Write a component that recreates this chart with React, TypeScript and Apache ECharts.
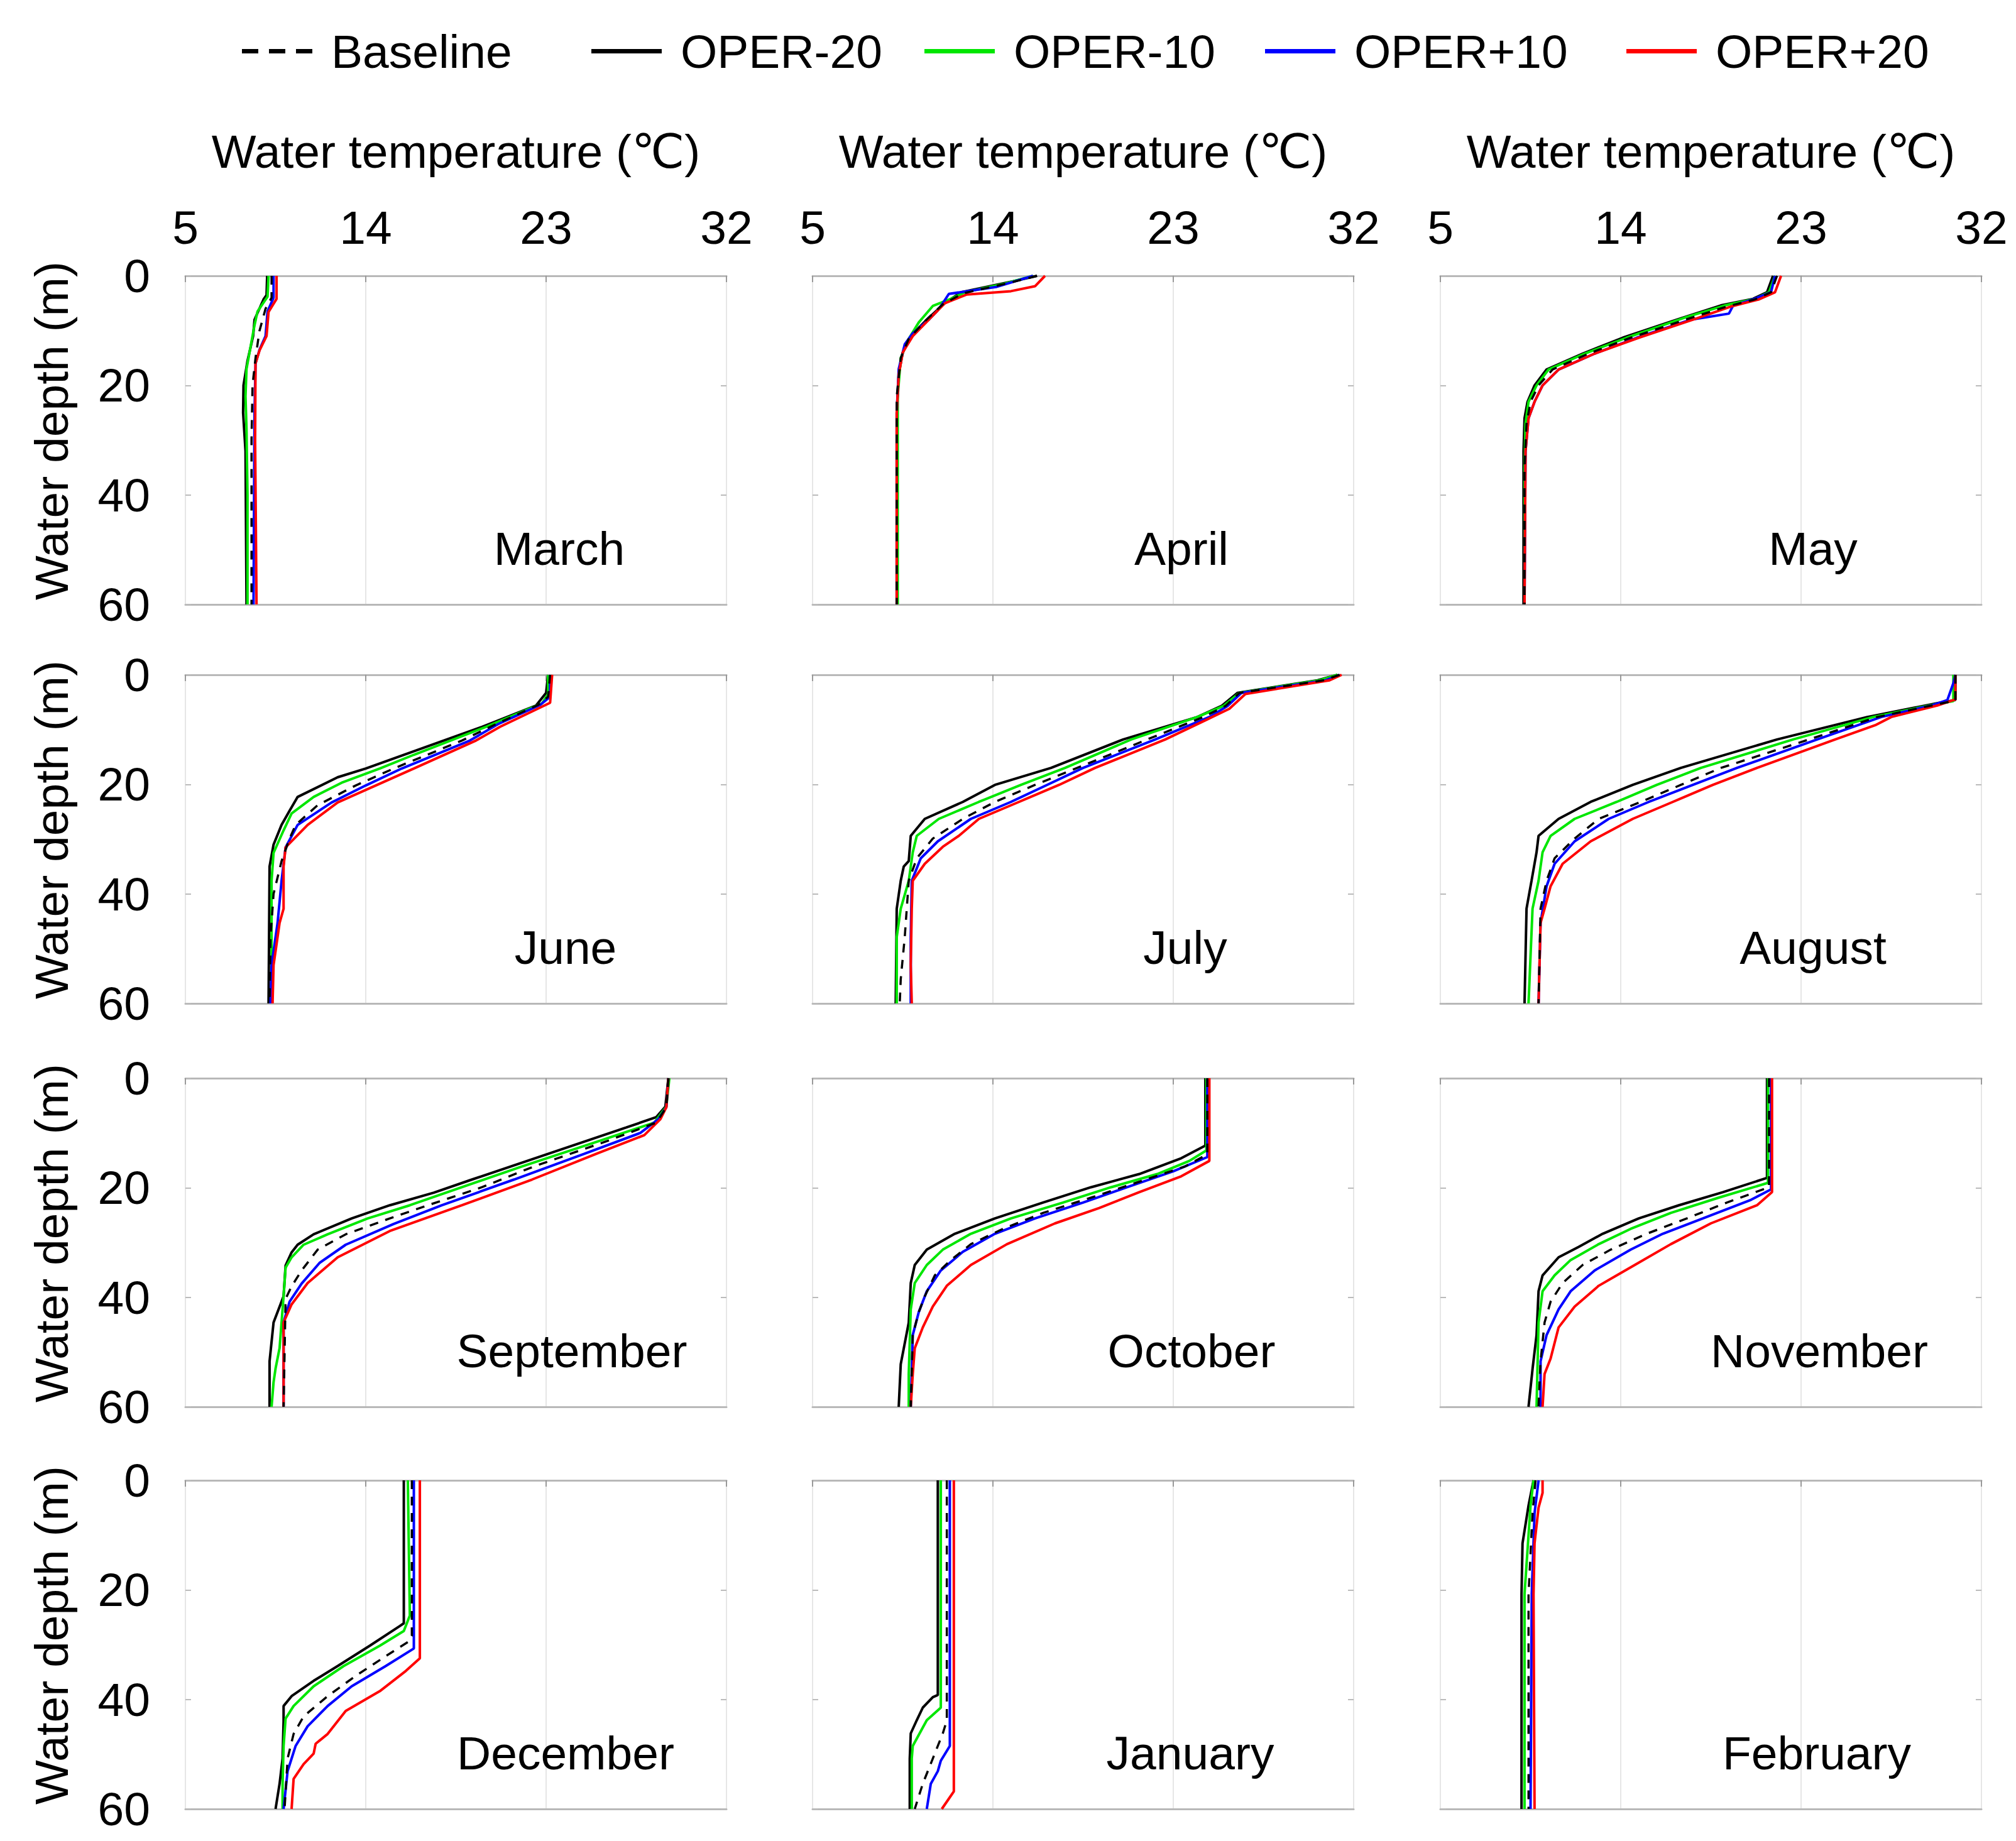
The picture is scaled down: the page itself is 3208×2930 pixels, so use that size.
import React, { useEffect, useRef } from "react";
import * as echarts from "echarts";

// ---------- data ----------
const SERIES_KEYS = ["m20", "m10", "p10", "p20", "base"];
const SERIES_NAMES = ["OPER-20", "OPER-10", "OPER+10", "OPER+20", "Baseline"];
const SERIES_COLORS = ["#000000", "#00e600", "#0000ff", "#ff0000", "#000000"];
const LEGEND_ORDER = ["Baseline", "OPER-20", "OPER-10", "OPER+10", "OPER+20"];
const MONTHS = ["March", "April", "May", "June", "July", "August", "September", "October", "November", "December", "January", "February"];
const TEMP_MIN = 5;
const TEMP_MAX = 32;
const TEMP_STEP = 9;
const DEPTH_MIN = 0;
const DEPTH_MAX = 60;
const DEPTH_STEP = 20;
const X_TITLE = "Water temperature (\u2103)";
const Y_TITLE = "Water depth (m)";

// each profile: [temperature (°C), depth (m)]
const march = {
  m20: [[9.08, 0], [9.05, 3.5], [8.9, 4.3], [8.45, 8], [8.38, 11], [8.1, 15.5], [7.9, 20], [7.88, 25], [8.0, 32], [8.05, 60]],
  m10: [[9.15, 0], [9.1, 3.8], [8.6, 6.5], [8.45, 9], [8.25, 13], [8.05, 17], [8.0, 22], [8.05, 28], [8.1, 40], [8.1, 60]],
  p10: [[9.4, 0], [9.4, 4], [9.1, 6.5], [9.0, 11], [8.7, 13.5], [8.5, 16], [8.45, 25], [8.4, 60]],
  p20: [[9.55, 0], [9.55, 4.2], [9.15, 6.6], [9.05, 11], [8.7, 13.6], [8.5, 16], [8.48, 30], [8.55, 60]],
  base: [[9.3, 0], [9.3, 4], [9.0, 6], [8.7, 10], [8.5, 15], [8.35, 20], [8.3, 30], [8.3, 60]],
};
const april = {
  m20: [[16.2, 0], [15.0, 1], [12.4, 3], [11.6, 5], [10.7, 8], [9.9, 11], [9.5, 14], [9.3, 18], [9.2, 25], [9.2, 60]],
  m10: [[16.0, 0], [14.5, 1.5], [12.6, 3], [11.9, 4.2], [11.0, 5.5], [10.3, 8.5], [9.8, 11.5], [9.4, 15], [9.25, 22], [9.25, 60]],
  p10: [[16.0, 0], [14.2, 2], [11.8, 3.3], [11.5, 5], [11.2, 6.5], [10.8, 8], [10.0, 10.5], [9.6, 12.5], [9.3, 17], [9.2, 25], [9.2, 60]],
  p20: [[16.6, 0], [16.1, 1.9], [14.9, 2.8], [12.7, 3.4], [11.6, 5], [10.8, 8], [10.0, 11], [9.5, 14], [9.3, 18], [9.2, 25], [9.2, 60]],
  base: [[16.2, 0], [14.8, 1.3], [12.5, 3.2], [11.5, 5.2], [10.6, 8.3], [9.8, 11.5], [9.4, 15], [9.2, 22], [9.2, 60]],
};
const may = {
  m20: [[21.6, 0], [21.3, 3], [20.6, 4.2], [19.0, 5.4], [17.0, 7.75], [14.1, 11.3], [12.1, 14.2], [10.3, 17.1], [9.7, 20], [9.35, 23], [9.2, 26], [9.15, 32], [9.15, 60]],
  m10: [[21.7, 0], [21.4, 3], [20.7, 4.2], [19.2, 5.4], [17.3, 7.5], [14.3, 11.3], [12.2, 14.2], [10.4, 17.1], [9.8, 20], [9.4, 23], [9.25, 27], [9.2, 35], [9.2, 60]],
  p10: [[21.7, 0], [21.5, 3], [20.6, 4.3], [19.6, 5.5], [19.4, 6.9], [18.2, 7.6], [17.5, 8], [14.8, 11.3], [12.7, 14.2], [10.9, 17.1], [10.1, 20], [9.7, 23], [9.4, 26], [9.25, 32], [9.2, 60]],
  p20: [[22.0, 0], [21.7, 3], [20.9, 4.3], [19.5, 5.6], [17.8, 7.75], [14.9, 11.3], [12.7, 14.2], [10.9, 17.1], [10.1, 20], [9.7, 23], [9.4, 26], [9.25, 32], [9.2, 60]],
  base: [[21.8, 0], [21.5, 3], [20.7, 4.3], [19.3, 5.6], [17.4, 7.8], [14.5, 11.3], [12.4, 14.2], [10.6, 17.1], [9.9, 20], [9.5, 23], [9.3, 27], [9.2, 35], [9.2, 60]],
};
const june = {
  m20: [[23.1, 0], [23.0, 3.3], [22.5, 5.6], [19.8, 9.5], [15.9, 14.6], [14.0, 17.1], [12.6, 18.7], [10.6, 22.3], [10.2, 24.8], [9.8, 27.4], [9.4, 31], [9.2, 35], [9.15, 60]],
  m10: [[23.1, 0], [23.1, 3.5], [22.8, 5.2], [20.0, 9.5], [16.4, 14.6], [14.7, 17.1], [12.8, 19.7], [11.4, 22.3], [10.3, 25.3], [9.9, 28.4], [9.4, 32.5], [9.3, 37.6], [9.3, 60]],
  p10: [[23.2, 0], [23.2, 4], [22.7, 5.5], [20.6, 9], [19.2, 12], [15.8, 17.1], [14.0, 20.2], [12.3, 23.3], [10.6, 27.4], [10.0, 31.5], [9.8, 37.6], [9.6, 45.3], [9.3, 53], [9.25, 60]],
  p20: [[23.3, 0], [23.2, 5.1], [20.7, 9.5], [19.5, 12], [16.4, 17.1], [14.5, 20.2], [12.6, 23.3], [11.1, 27.4], [10.0, 31.5], [9.9, 35], [9.9, 42.7], [9.7, 45.3], [9.4, 53], [9.35, 60]],
  base: [[23.2, 0], [23.1, 4], [22.6, 5.5], [20.5, 9], [18.8, 12], [15.4, 17.1], [13.5, 20.2], [11.6, 23.8], [10.5, 27.4], [10.2, 29.9], [9.8, 34], [9.4, 40], [9.25, 47.8], [9.2, 60]],
};
const july = {
  m20: [[31.2, 0], [30.2, 1], [26.2, 3.3], [25.4, 5.7], [24.2, 7.7], [20.5, 11.8], [16.9, 17], [14.1, 20.1], [12.5, 23.2], [10.6, 26.3], [9.9, 29.4], [9.8, 34], [9.55, 35], [9.4, 37.6], [9.2, 42.7], [9.15, 60]],
  m10: [[31.2, 0], [30.3, 1], [26.3, 3.3], [25.5, 5.7], [24.2, 7.7], [20.9, 11.8], [17.6, 17], [15.4, 20.1], [13.3, 23.2], [11.3, 26.3], [10.2, 29.4], [10.0, 32.4], [9.8, 37.6], [9.4, 42.7], [9.2, 47.9], [9.2, 60]],
  p10: [[31.3, 0], [30.6, 1], [26.4, 3.3], [25.7, 5.7], [24.8, 7.7], [22.1, 11.8], [18.5, 17], [16.7, 20.1], [14.9, 23.2], [12.9, 26.3], [11.25, 30.4], [10.4, 33.5], [9.95, 37.6], [9.9, 47.9], [9.9, 60]],
  p20: [[31.4, 0], [30.8, 1], [26.6, 3.5], [25.8, 6.2], [24.6, 8.3], [22.6, 11.8], [19.1, 17], [17.3, 20.1], [15.3, 23.2], [13.3, 26.3], [12.3, 29.4], [11.5, 31.4], [10.6, 34.5], [10.0, 37.6], [9.95, 42.7], [9.9, 53], [9.95, 60]],
  base: [[31.3, 0], [30.5, 1], [26.3, 3.3], [25.6, 5.7], [24.5, 7.7], [21.7, 11.8], [18.2, 17], [16.1, 20.1], [14.1, 23.2], [12.5, 26.3], [11.0, 29.9], [10.2, 33.5], [9.8, 37.6], [9.6, 47.9], [9.4, 55.6], [9.35, 60]],
};
const august = {
  m20: [[30.7, 0], [30.7, 4.6], [29.9, 5.1], [26.3, 7.7], [21.8, 11.8], [17.0, 17], [14.6, 20.1], [12.5, 23.2], [10.9, 26.3], [9.9, 29.4], [9.8, 32.4], [9.55, 37.6], [9.3, 42.7], [9.2, 60]],
  m10: [[30.6, 0], [30.6, 4.8], [29.8, 5.3], [26.6, 7.7], [22.6, 11.8], [18.0, 17], [15.8, 20.1], [13.8, 23.2], [11.7, 26.3], [10.5, 29.4], [10.1, 32.4], [9.9, 37.6], [9.6, 42.7], [9.4, 60]],
  p10: [[30.7, 0], [30.6, 1.5], [30.3, 4.6], [29.6, 5.5], [27.0, 7.7], [23.8, 11.8], [19.8, 17], [17.6, 20.1], [15.4, 23.2], [13.4, 26.3], [11.7, 30.4], [10.7, 34.5], [10.3, 38.6], [10.0, 45.3], [9.9, 60]],
  p20: [[30.7, 0], [30.7, 4.5], [29.8, 5.6], [27.5, 7.7], [26.7, 9.2], [24.7, 11.8], [20.8, 17], [18.6, 20.1], [16.6, 23.2], [14.6, 26.3], [12.5, 30.4], [11.1, 34.5], [10.5, 38.6], [10.2, 42.7], [10.0, 45.3], [9.9, 60]],
  base: [[30.7, 0], [30.7, 4.7], [29.9, 5.3], [26.8, 7.7], [23.4, 11.8], [19.0, 17], [17.0, 20.1], [15.0, 23.2], [12.9, 26.3], [11.7, 29.9], [10.7, 33.5], [10.3, 37.6], [10.0, 42.7], [9.9, 60]],
};
const september = {
  m20: [[29.1, 0], [28.95, 5.2], [28.5, 7.1], [27.0, 9], [23.1, 13.8], [19.3, 18.5], [17.4, 20.9], [15.2, 23.2], [13.3, 25.6], [11.4, 28.5], [10.6, 30.4], [10.3, 31.8], [10.0, 34.2], [9.9, 39.8], [9.4, 44.6], [9.2, 51.7], [9.2, 60]],
  m10: [[29.15, 0], [29.0, 5.2], [28.4, 8.1], [25.7, 11.4], [21.8, 16.1], [18.8, 19.9], [16.2, 23.2], [14.1, 25.6], [12.1, 28.5], [10.9, 30.4], [10.3, 32.7], [10.0, 34.6], [9.9, 39.8], [9.7, 49.3], [9.5, 53], [9.4, 55.5], [9.3, 60]],
  p10: [[29.1, 0], [29.0, 5.3], [28.6, 7.5], [27.7, 10], [24.9, 13.8], [21.4, 18.5], [17.8, 23.2], [15.4, 26.6], [13.0, 30.4], [11.7, 33.7], [10.8, 37.5], [10.2, 40.8], [9.9, 44.6], [9.9, 60]],
  p20: [[29.1, 0], [29.0, 5.3], [28.7, 7.5], [27.9, 10.4], [25.5, 13.8], [22.3, 18.5], [18.8, 23.2], [15.2, 27.9], [12.6, 32.7], [11.1, 37.4], [10.3, 41.3], [9.9, 44.6], [9.9, 60]],
  base: [[29.1, 0], [29.0, 5.3], [28.5, 8.1], [26.1, 11.4], [22.4, 16.1], [19.8, 19.9], [17.1, 23.2], [15.2, 25.6], [13.0, 28.5], [11.6, 31.3], [10.8, 35.1], [10.3, 38], [10.0, 40.3], [9.9, 60]],
};
const october = {
  m20: [[24.6, 0], [24.6, 12.3], [23.4, 14.6], [21.3, 17.5], [18.9, 19.9], [16.5, 22.7], [14.1, 25.6], [12.1, 28.4], [10.7, 31.3], [10.1, 34.1], [9.9, 37.4], [9.8, 44.6], [9.4, 52.2], [9.3, 60]],
  m10: [[24.65, 0], [24.65, 13.2], [23.8, 15.1], [22.2, 17.5], [19.9, 19.9], [17.5, 22.7], [14.9, 25.6], [12.9, 28.4], [11.5, 31.3], [10.7, 34.1], [10.1, 37.4], [9.9, 42.2], [9.8, 54], [9.8, 60]],
  p10: [[24.7, 0], [24.7, 14.4], [23.0, 17], [20.7, 19.9], [18.5, 22.7], [16.1, 25.6], [14.1, 28.4], [12.5, 31.7], [11.4, 35.1], [10.7, 38.9], [10.3, 42.7], [10.0, 46.9], [9.9, 60]],
  p20: [[24.8, 0], [24.8, 15.1], [23.4, 17.9], [21.3, 20.8], [19.3, 23.7], [17.1, 26.5], [14.7, 30.3], [12.9, 34.1], [11.7, 37.9], [11.0, 41.7], [10.5, 45.5], [10.1, 49.3], [10.0, 54], [9.9, 60]],
  base: [[24.7, 0], [24.7, 13.9], [23.6, 16.1], [21.3, 18.9], [18.9, 21.8], [16.5, 24.6], [14.5, 27.5], [12.9, 30.3], [11.9, 33.2], [11.1, 36], [10.6, 39.8], [10.3, 42.7], [10.0, 46.9], [9.9, 60]],
};
const november = {
  m20: [[21.3, 0], [21.3, 18.2], [19.1, 20.8], [16.9, 23.2], [14.9, 25.6], [13.1, 28.4], [11.9, 30.8], [10.9, 32.7], [10.1, 36], [9.9, 38.9], [9.8, 46.9], [9.6, 53.1], [9.4, 60]],
  m10: [[21.35, 0], [21.35, 19.1], [18.9, 21.8], [16.5, 24.6], [14.5, 27.5], [12.9, 30.3], [11.5, 33.2], [10.7, 36], [10.1, 38.9], [9.9, 44.6], [9.8, 60]],
  p10: [[21.5, 0], [21.5, 20.3], [20.5, 22.2], [18.1, 25.6], [16.1, 28.4], [14.5, 31.3], [12.7, 35.1], [11.5, 38.9], [10.9, 42.2], [10.3, 46.9], [10.0, 51.7], [10.0, 60]],
  p20: [[21.55, 0], [21.55, 20.8], [20.8, 23.2], [18.5, 26.5], [16.5, 30.3], [14.7, 34.1], [12.9, 37.9], [11.7, 41.7], [10.9, 45.5], [10.5, 51.2], [10.2, 54], [10.1, 60]],
  base: [[21.4, 0], [21.4, 19.9], [19.3, 22.7], [17.3, 25.6], [15.3, 28.4], [13.5, 31.3], [12.1, 34.1], [11.1, 37.4], [10.5, 40.8], [10.2, 44.6], [10.0, 51.7], [9.9, 60]],
};
const december = {
  m20: [[15.9, 0], [15.9, 26.1], [15.7, 26.6], [14.2, 30.2], [12.6, 33.9], [11.4, 36.6], [10.3, 39.4], [9.9, 41.2], [9.9, 44], [9.85, 50.8], [9.7, 55.4], [9.5, 60]],
  m10: [[16.1, 0], [16.2, 24.7], [15.9, 27.5], [14.7, 30.2], [12.9, 33.9], [11.4, 37.6], [10.4, 41.2], [10.0, 43.5], [9.9, 48.5], [9.85, 55.4], [9.85, 60]],
  p10: [[16.4, 0], [16.4, 30.7], [15.0, 33.9], [13.3, 37.6], [12.1, 41.2], [11.1, 44.9], [10.5, 48.5], [10.1, 53.1], [9.9, 60]],
  p20: [[16.7, 0], [16.7, 32.5], [16.0, 34.8], [14.7, 38.5], [13.0, 42.1], [12.1, 46.3], [11.5, 48.1], [11.4, 49.9], [10.9, 51.8], [10.4, 54.5], [10.3, 60]],
  base: [[16.3, 0], [16.3, 28.4], [16.2, 29.3], [15.0, 32.1], [13.5, 35.7], [12.1, 39.4], [10.9, 43.1], [10.4, 46.3], [10.1, 50.8], [9.95, 60]],
};
const january = {
  m20: [[11.25, 0], [11.25, 39.2], [11.0, 39.6], [10.5, 41.5], [10.2, 43.8], [9.9, 46.2], [9.85, 50.8], [9.85, 60]],
  m10: [[11.4, 0], [11.4, 41.5], [10.7, 43.8], [10.0, 48.5], [9.95, 50.8], [9.95, 60]],
  p10: [[11.85, 0], [11.85, 48.5], [11.4, 51.2], [11.25, 53.1], [10.9, 55.4], [10.7, 60]],
  p20: [[12.05, 0], [12.05, 56.8], [11.45, 60]],
  base: [[11.7, 0], [11.7, 43.8], [11.5, 46.2], [11.0, 50.8], [10.5, 55.4], [10.1, 60]],
};
const february = {
  m20: [[9.65, 0], [9.4, 4.6], [9.1, 11.5], [9.05, 20.8], [9.05, 60]],
  m10: [[9.65, 0], [9.5, 4.6], [9.2, 20.8], [9.2, 60]],
  p10: [[9.9, 0], [9.7, 6], [9.56, 20.8], [9.5, 60]],
  p20: [[10.1, 0], [10.1, 2.3], [9.9, 5], [9.7, 11.5], [9.65, 20.8], [9.7, 60]],
  base: [[9.75, 0], [9.6, 6], [9.4, 20.8], [9.4, 60]],
};
const PROFILES = [march, april, may, june, july, august, september, october, november, december, january, february];

// ---------- layout ----------
const W = 3208;
const H = 2930;
const COL_LEFT = [295, 1293, 2292];
const PANEL_W = 861;
const ROW_TOP = [439, 1074, 1716, 2356];
const PANEL_H = 523;
const FONT = "'Liberation Sans', Arial, 'DejaVu Sans', sans-serif";
const FS = 75;
const LEGEND_LEFT = [385, 941, 1471, 2013, 2588];
// centre x of each month label (page pixels)
const MONTH_LABEL_X = [890, 1880, 2885, 900, 1886, 2885, 910, 1896, 2895, 900, 1894, 2891];

function buildOption() {
  const grid: any[] = [];
  const xAxis: any[] = [];
  const yAxis: any[] = [];
  const series: any[] = [];
  const graphic: any[] = [];

  MONTHS.forEach((month, i) => {
    const r = Math.floor(i / 3);
    const c = i % 3;
    grid.push({
      left: COL_LEFT[c],
      top: ROW_TOP[r],
      width: PANEL_W,
      height: PANEL_H,
      show: true,
      borderColor: "#d4d4d4",
      borderWidth: 2,
      backgroundColor: "transparent",
      containLabel: false,
    });
    xAxis.push({
      type: "value",
      gridIndex: i,
      position: "top",
      min: TEMP_MIN,
      max: TEMP_MAX,
      interval: TEMP_STEP,
      axisLine: { show: true, onZero: false, lineStyle: { color: "#b8b8b8", width: 3 } },
      axisTick: { show: true, inside: true, length: 10, lineStyle: { color: "#999", width: 2 } },
      axisLabel: { show: r === 0, fontSize: FS, color: "#000", fontFamily: FONT, margin: 40 },
      splitLine: { show: true, lineStyle: { color: "#e6e6e6", width: 2 } },
    });
    xAxis.push({
      type: "value",
      gridIndex: i,
      position: "bottom",
      min: TEMP_MIN,
      max: TEMP_MAX,
      interval: TEMP_STEP,
      axisLine: { show: true, onZero: false, lineStyle: { color: "#b8b8b8", width: 3 } },
      axisTick: { show: false },
      axisLabel: { show: false },
      splitLine: { show: false },
    });
    yAxis.push({
      type: "value",
      gridIndex: i,
      position: "left",
      inverse: true,
      min: DEPTH_MIN,
      max: DEPTH_MAX,
      interval: DEPTH_STEP,
      axisLine: { show: false },
      axisTick: { show: true, inside: true, length: 9, lineStyle: { color: "#bbb", width: 2 } },
      axisLabel: { show: c === 0, fontSize: FS, color: "#000", fontFamily: FONT, margin: 56 },
      splitLine: { show: false },
    });
    yAxis.push({
      type: "value",
      gridIndex: i,
      position: "right",
      inverse: true,
      min: DEPTH_MIN,
      max: DEPTH_MAX,
      interval: DEPTH_STEP,
      axisLine: { show: false },
      axisTick: { show: true, inside: true, length: 9, lineStyle: { color: "#bbb", width: 2 } },
      axisLabel: { show: false },
      splitLine: { show: false },
    });

    const prof: any = PROFILES[i];
    SERIES_KEYS.forEach((key, k) => {
      const isBase = key === "base";
      series.push({
        type: "line",
        name: SERIES_NAMES[k],
        xAxisIndex: 2 * i,
        yAxisIndex: 2 * i,
        data: prof[key],
        symbol: "none",
        showSymbol: false,
        silent: true,
        z: 2 + k,
        itemStyle: { color: SERIES_COLORS[k] },
        lineStyle: {
          color: SERIES_COLORS[k],
          width: isBase ? 3.5 : 4,
          type: isBase ? [14, 12] : "solid",
        },
      });
    });

    // month label
    graphic.push({
      type: "text",
      x: MONTH_LABEL_X[i],
      y: ROW_TOP[r] + 434,
      style: {
        text: month,
        fontSize: FS,
        fontFamily: FONT,
        fill: "#000",
        textAlign: "center",
        textVerticalAlign: "middle",
      },
      z: 10,
    });
  });

  // x-axis titles
  COL_LEFT.forEach((left) => {
    graphic.push({
      type: "text",
      x: left + PANEL_W / 2,
      y: 241,
      style: {
        text: X_TITLE,
        fontSize: FS,
        fontFamily: FONT,
        fill: "#000",
        textAlign: "center",
        textVerticalAlign: "middle",
      },
    });
  });
  // y-axis titles
  ROW_TOP.forEach((top) => {
    graphic.push({
      type: "text",
      x: 82,
      y: top + PANEL_H / 2 - 15,
      rotation: Math.PI / 2,
      style: {
        text: Y_TITLE,
        fontSize: FS,
        fontFamily: FONT,
        fill: "#000",
        textAlign: "center",
        textVerticalAlign: "middle",
      },
    });
  });

  const legend = LEGEND_ORDER.map((name, j) => ({
    data: [name],
    left: LEGEND_LEFT[j],
    top: 44,
    padding: 0,
    itemWidth: 112,
    itemHeight: 7,
    icon: name === "Baseline" ? "path://M0 0h26v7h-26z M43 0h26v7h-26z M86 0h26v7h-26z" : "rect",
    selectedMode: false,
    textStyle: { fontSize: FS, fontFamily: FONT, color: "#000", padding: [0, 0, 0, 25] },
  }));

  return {
    animation: false,
    backgroundColor: "#ffffff",
    grid,
    xAxis,
    yAxis,
    series,
    legend,
    graphic,
  };
}

export default function App() {
  const ref = useRef<HTMLDivElement>(null);
  useEffect(() => {
    if (!ref.current) return;
    const chart = echarts.init(ref.current, undefined, { renderer: "svg", width: W, height: H });
    chart.setOption(buildOption());
    return () => chart.dispose();
  }, []);
  return (
    <div
      ref={ref}
      style={{ position: "fixed", left: 0, top: 0, width: W, height: H, background: "#fff" }}
    />
  );
}
